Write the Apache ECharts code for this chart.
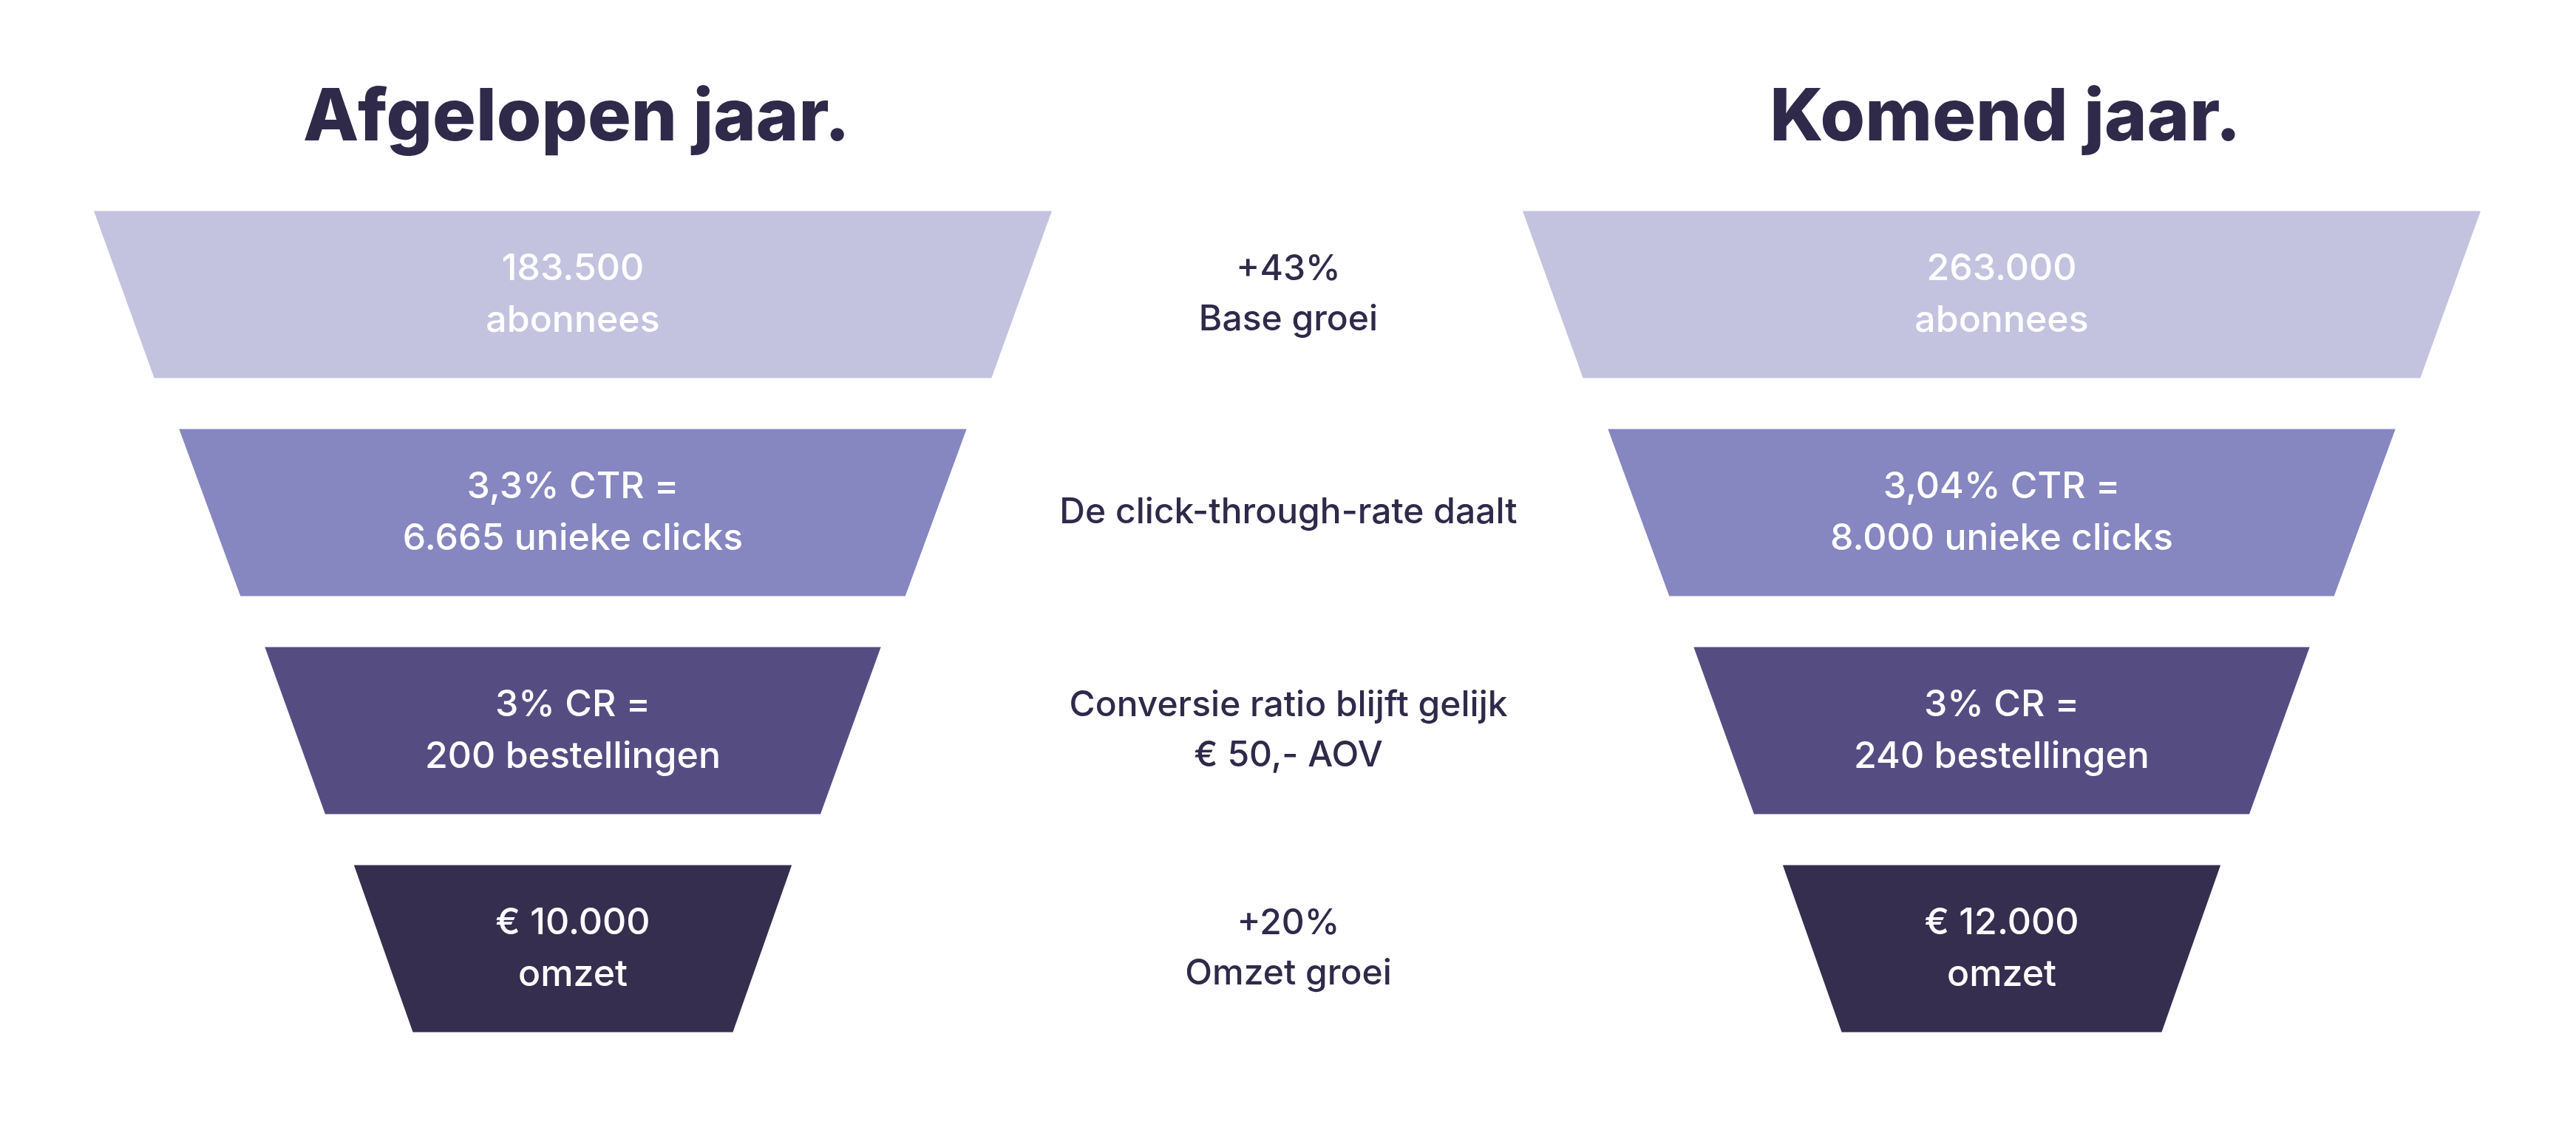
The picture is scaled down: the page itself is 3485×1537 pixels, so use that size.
<!DOCTYPE html>
<html><head><meta charset="utf-8">
<script src="https://cdn.jsdelivr.net/npm/echarts@6/dist/echarts.min.js"></script>
<style>html,body{margin:0;padding:0;background:#fff}#c{width:3485px;height:1537px}</style>
</head><body><div id="c"></div>
<script>
var titles = ['Afgelopen jaar.', 'Komend jaar.'];
var stages = ['Abonnees', 'Clicks', 'Bestellingen', 'Omzet'];
var topWidths = [100, 82.2, 64.3, 45.7];
var bottomWidths = [87.4, 69.4, 51.7, 33.4];
var labelsPast = ['183.500\nabonnees', '3,3% CTR =\n6.665 unieke clicks', '3% CR =\n200 bestellingen', '€ 10.000\nomzet'];
var labelsNext = ['263.000\nabonnees', '3,04% CTR =\n8.000 unieke clicks', '3% CR =\n240 bestellingen', '€ 12.000\nomzet'];
var middleTexts = ['+43%\nBase groei', 'De click-through-rate daalt', 'Conversie ratio blijft gelijk\n€ 50,- AOV', '+20%\nOmzet groei'];
var colors = ['#c3c3e0', '#8686c1', '#554d82', '#352e4e'];
var textColors = ['#ffffff', '#ffffff', '#ffffff', '#ffffff'];

var FONT = 'Inter';
function buildData(labels){
  return stages.map(function(s,i){ return {value:[50, i, topWidths[i], bottomWidths[i]], name: labels[i]}; });
}
function renderItem(params, api){
  var idx = params.dataIndex;
  var c = api.coord([50, api.value(1)]);
  var band = api.size([0,1])[1];
  var h = band * 0.766;
  var tw = api.size([api.value(2),0])[0];
  var bw = api.size([api.value(3),0])[0];
  var y0 = c[1]-h/2, y1 = c[1]+h/2;
  var lbl = params.seriesIndex===0 ? labelsPast[idx] : labelsNext[idx];
  return {type:'group', children:[
    {type:'polygon', shape:{points:[[c[0]-tw/2,y0],[c[0]+tw/2,y0],[c[0]+bw/2,y1],[c[0]-bw/2,y1]]}, style:{fill:colors[idx]}},
    {type:'text', x:c[0], y:c[1], style:{text:lbl, fill:textColors[idx], font:'500 50px '+FONT, align:'center', verticalAlign:'middle', lineHeight:70}}
  ]};
}
var grids = [{left:127, width:1296, top:251, height:1180},{left:2060, width:1296, top:251, height:1180}];
var option = {
  animation:false,
  backgroundColor:'#ffffff',
  grid: grids,
  xAxis: [0,1].map(function(i){return {type:'value', gridIndex:i, min:0, max:100, show:false};}),
  yAxis: [0,1].map(function(i){return {type:'category', gridIndex:i, data:stages, inverse:true, show:false};}),
  title: [
    {text:titles[0], left:775, top:156, textAlign:'center', textVerticalAlign:'middle', textStyle:{fontFamily:FONT, fontWeight:800, fontSize:98, color:'#2f2a4a'}},
    {text:titles[1], left:2708, top:156, textAlign:'center', textVerticalAlign:'middle', textStyle:{fontFamily:FONT, fontWeight:800, fontSize:98, color:'#2f2a4a'}}
  ],
  graphic: middleTexts.map(function(t,i){
    return {type:'text', x:1743, y:398.5+i*295, style:{text:t, fill:'#2f2a4a', font:'500 48px '+FONT, align:'center', verticalAlign:'middle', lineHeight:68}};
  }),
  series: [
    {type:'custom', xAxisIndex:0, yAxisIndex:0, renderItem:renderItem, data:buildData(labelsPast)},
    {type:'custom', xAxisIndex:1, yAxisIndex:1, renderItem:renderItem, data:buildData(labelsNext)}
  ]
};
echarts.init(document.getElementById('c')).setOption(option);
</script></body></html>
